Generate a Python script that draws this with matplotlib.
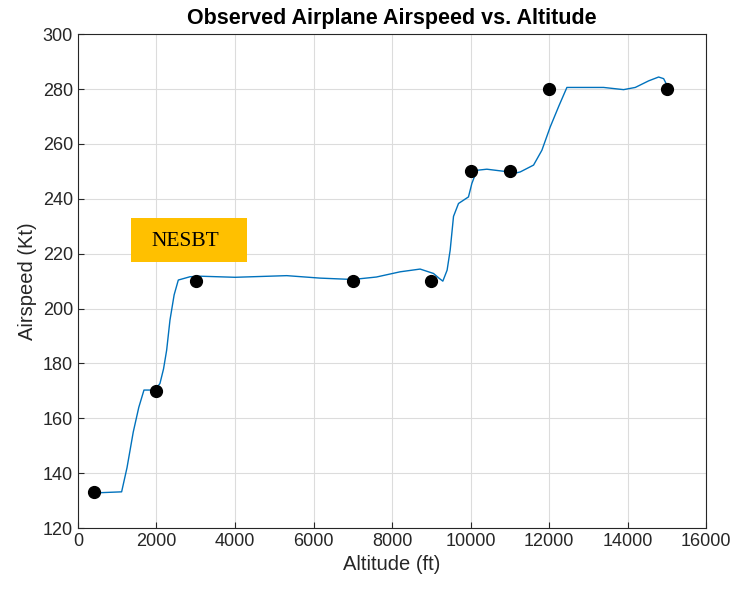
import matplotlib.pyplot as plt
from matplotlib.patches import Rectangle

# observed points
altitude = [400, 2000, 3000, 7000, 9000, 10000, 11000, 12000, 15000]
airspeed = [133, 170, 210, 210, 210, 250, 250, 280, 280]

# fitted curve
fitAlt = [415, 1113, 1250, 1409, 1550, 1682, 1877, 2000, 2089, 2180, 2259, 2344,
          2450, 2556, 2854, 3108, 4000, 5317, 6166, 7000, 7600, 8204, 8713,
          9053, 9200, 9291, 9400, 9478, 9563, 9690, 9944, 10030, 10157, 10412,
          10751, 11175, 11261, 11601, 11813, 12025, 12250, 12450, 13384, 13893,
          14191, 14531, 14785, 14913, 15040]
fitSpeed = [132.8, 133.2, 142, 155, 164, 170.3, 170.3, 171, 172.7, 178, 184.8, 195.8,
            205, 210.4, 211.6, 211.8, 211.4, 212.0, 211.1, 210.6, 211.5, 213.4, 214.4,
            212.8, 211, 210.0, 214, 221.3, 233.6, 238.3, 240.7, 245.6, 250.4, 250.8,
            250.2, 249.5, 249.8, 252.3, 257.7, 266.2, 274, 280.6, 280.6, 279.8,
            280.6, 283.0, 284.4, 283.8, 280.2]

plt.rcParams['font.family'] = ['Liberation Sans', 'DejaVu Sans']

fig = plt.figure(figsize=(7.35, 5.9), dpi=100)
ax = fig.add_axes([0.106, 0.105, 0.855, 0.837])

ax.plot(fitAlt, fitSpeed, color='#0072BD', linewidth=1.0)
ax.plot(altitude, airspeed, 'o', color='black', markersize=8.5)

ax.set_xlim(0, 16000)
ax.set_ylim(120, 300)
ax.set_xticks(range(0, 16001, 2000))
ax.set_yticks(range(120, 301, 20))
ax.grid(True, color='#dcdcdc', linewidth=0.8)
ax.set_axisbelow(True)
ax.tick_params(direction='in', labelsize=13, colors='#262626', length=4,
               top=False, right=False)
for s in ax.spines.values():
    s.set_color('#262626')
    s.set_linewidth(0.8)

ax.set_title('Observed Airplane Airspeed vs. Altitude', fontsize=15.5,
             fontweight='bold', pad=7)
ax.set_xlabel('Altitude (ft)', fontsize=14.5, color='#262626')
ax.set_ylabel('Airspeed (Kt)', fontsize=14.5, color='#262626')

# orange label box
ax.add_patch(Rectangle((1350, 216.9), 2956, 16.2, facecolor='#FFC000',
                       edgecolor='none', zorder=3))
ax.text(2726, 224.6, 'NESBT', family='Liberation Serif', fontsize=15.5,
        ha='center', va='center', zorder=4)

fig.savefig('out.png', dpi=100)
